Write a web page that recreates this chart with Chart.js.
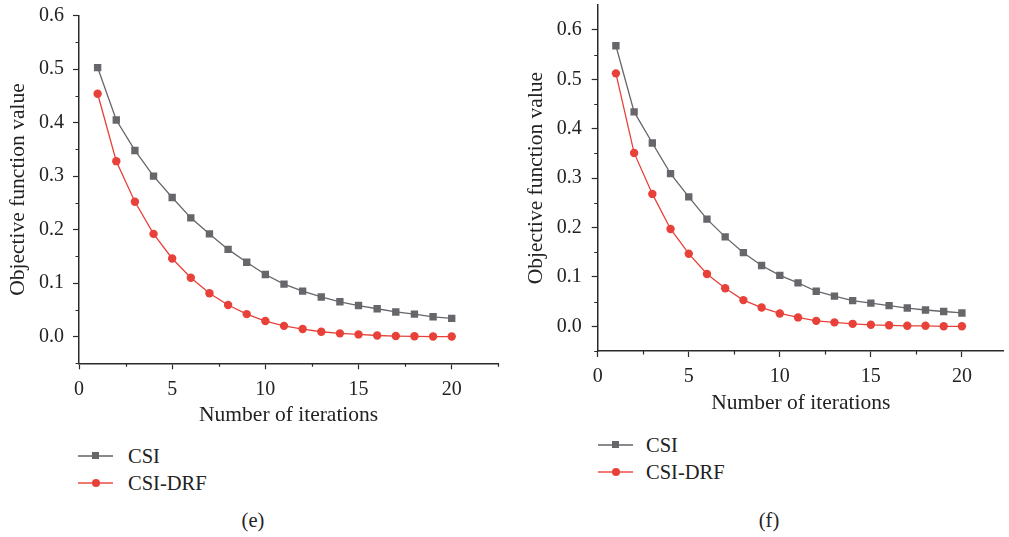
<!DOCTYPE html>
<html>
<head>
<meta charset="utf-8">
<script src="https://cdn.jsdelivr.net/npm/chart.js@4.4.1/dist/chart.umd.min.js"></script>
<style>
  body { margin: 0; background: #fff; width: 1009px; height: 537px; position: relative; overflow: hidden;
         font-family: "Liberation Serif", "DejaVu Serif", serif; color: #222; }
  canvas { position: absolute; }
  .leg { position: absolute; font-size: 20.5px; line-height: 20px; height: 20px; }
  .leg .ln { position: absolute; top: 9px; height: 1.5px; width: 35px; }
  .leg .mk { position: absolute; }
  .leg .tx { position: absolute; top: 0; white-space: nowrap; }
  .cap { position: absolute; font-size: 20.5px; transform: translateX(-50%); }
</style>
</head>
<body>
<canvas id="chartE" width="505" height="430" style="left:0;top:0;width:505px;height:430px"></canvas>
<canvas id="chartF" width="499" height="430" style="left:510px;top:0;width:499px;height:430px"></canvas>

<div class="leg" style="left:78px;top:446px">
  <div class="ln" style="width:35px;background:#8a8a8e"></div>
  <div class="mk" style="left:14px;top:6px;width:7px;height:7px;background:#66666b"></div>
  <div class="tx" style="left:50px">CSI</div>
</div>
<div class="leg" style="left:78px;top:473px">
  <div class="ln" style="width:35px;background:#f07a72"></div>
  <div class="mk" style="left:13.5px;top:5.5px;width:8px;height:8px;border-radius:50%;background:#e8413a"></div>
  <div class="tx" style="left:50px">CSI-DRF</div>
</div>
<div class="cap" style="left:253px;top:509px">(e)</div>

<div class="leg" style="left:598px;top:435px">
  <div class="ln" style="width:35px;background:#8a8a8e"></div>
  <div class="mk" style="left:14px;top:6px;width:7px;height:7px;background:#66666b"></div>
  <div class="tx" style="left:48px">CSI</div>
</div>
<div class="leg" style="left:598px;top:462px">
  <div class="ln" style="width:35px;background:#f07a72"></div>
  <div class="mk" style="left:13.5px;top:5.5px;width:8px;height:8px;border-radius:50%;background:#e8413a"></div>
  <div class="tx" style="left:48px">CSI-DRF</div>
</div>
<div class="cap" style="left:769px;top:509px">(f)</div>

<script>
// iterations 1..20
const iterations = [1, 2, 3, 4, 5, 6, 7, 8, 9, 10, 11, 12, 13, 14, 15, 16, 17, 18, 19, 20];

// panel (e)
const csiE = [0.503, 0.405, 0.348, 0.300, 0.260, 0.222, 0.192, 0.163, 0.139, 0.116,
              0.098, 0.085, 0.074, 0.065, 0.058, 0.052, 0.046, 0.042, 0.037, 0.034];
const drfE = [0.454, 0.328, 0.252, 0.192, 0.146, 0.110, 0.081, 0.059, 0.042, 0.029,
              0.020, 0.014, 0.009, 0.006, 0.004, 0.002, 0.001, 0.0005, 0.0, 0.0];

// panel (f)
const csiF = [0.568, 0.434, 0.371, 0.309, 0.262, 0.217, 0.181, 0.149, 0.123, 0.103,
              0.088, 0.071, 0.061, 0.052, 0.047, 0.042, 0.037, 0.033, 0.030, 0.027];
const drfF = [0.512, 0.351, 0.268, 0.197, 0.147, 0.106, 0.077, 0.053, 0.038, 0.026,
              0.018, 0.011, 0.008, 0.005, 0.003, 0.002, 0.001, 0.001, 0.0, 0.0];

const xTicks = [0, 5, 10, 15, 20];
const xMinorTicks = [2.5, 7.5, 12.5, 17.5, 22.5];
const yTicks = [0.0, 0.1, 0.2, 0.3, 0.4, 0.5, 0.6];
const yMinorTicks = [-0.05, 0.05, 0.15, 0.25, 0.35, 0.45, 0.55];

const axisColor = '#2a2a2a';
const serif = '"Liberation Serif", "DejaVu Serif", serif';
const tickFont = { family: serif, size: 20 };
const titleFont = { family: serif, size: 21.5 };

// short minor tick marks
const minorTicks = {
  id: 'minorTicks',
  afterDraw(chart) {
    const ctx = chart.ctx;
    const xs = chart.scales.x, ys = chart.scales.y;
    ctx.save();
    ctx.strokeStyle = axisColor;
    ctx.lineWidth = 1.2;
    ctx.beginPath();
    xMinorTicks.forEach(v => {
      if (v > xs.max) return;
      const px = Math.round(xs.getPixelForValue(v)) + 0.5;
      ctx.moveTo(px, xs.top);
      ctx.lineTo(px, xs.top + 3.5);
    });
    yMinorTicks.forEach(v => {
      if (v < ys.min || v > ys.max) return;
      const py = Math.round(ys.getPixelForValue(v)) + 0.5;
      ctx.moveTo(ys.right, py);
      ctx.lineTo(ys.right - 3.5, py);
    });
    ctx.stroke();
    ctx.restore();
  }
};

function makeChart(id, csi, drf, opt) {
  return new Chart(document.getElementById(id), {
    type: 'line',
    data: {
      datasets: [
        {
          label: 'CSI',
          data: iterations.map((x, i) => ({ x: x, y: csi[i] })),
          borderColor: '#66666b',
          backgroundColor: '#66666b',
          borderWidth: 1.3,
          pointStyle: 'rect',
          pointRadius: 5.2,
          pointBorderWidth: 0,
          tension: 0
        },
        {
          label: 'CSI-DRF',
          data: iterations.map((x, i) => ({ x: x, y: drf[i] })),
          borderColor: '#e8413a',
          backgroundColor: '#e8413a',
          borderWidth: 1.3,
          pointStyle: 'circle',
          pointRadius: 4.2,
          pointBorderWidth: 0,
          tension: 0
        }
      ]
    },
    options: {
      responsive: false,
      animation: false,
      events: [],
      layout: { padding: { top: opt.top, right: opt.right, left: 0, bottom: 0 } },
      plugins: { legend: { display: false }, tooltip: { enabled: false } },
      scales: {
        x: {
          type: 'linear',
          min: 0,
          max: opt.xMax,
          afterBuildTicks: s => { s.ticks = xTicks.map(v => ({ value: v })); },
          afterFit: s => { s.height = opt.xHeight; s.paddingLeft = 0; s.paddingRight = 0; },
          grid: { drawOnChartArea: false, drawTicks: true, tickLength: 6, tickColor: axisColor, tickWidth: 1.2 },
          border: { display: true, color: axisColor, width: 1.5 },
          ticks: { color: '#222', font: tickFont, padding: opt.xTickPad, maxRotation: 0 },
          title: { display: true, text: 'Number of iterations', color: '#222', font: titleFont,
                   padding: { top: 0, bottom: opt.xTitlePad } }
        },
        y: {
          type: 'linear',
          min: -0.05,
          max: opt.yMax,
          afterBuildTicks: s => { s.ticks = yTicks.map(v => ({ value: v })); },
          afterFit: s => { s.width = opt.yWidth; s.paddingTop = 0; s.paddingBottom = 0; },
          grid: { drawOnChartArea: false, drawTicks: true, tickLength: 6, tickColor: axisColor, tickWidth: 1.2 },
          border: { display: true, color: axisColor, width: 1.5 },
          ticks: { color: '#222', font: tickFont, padding: opt.yTickPad,
                   callback: v => v.toFixed(1) },
          title: { display: true, text: 'Objective function value', color: '#222', font: titleFont,
                   padding: { top: opt.yTitlePad, bottom: 0 } }
        }
      }
    },
    plugins: [minorTicks]
  });
}

makeChart('chartE', csiE, drfE, {
  top: 15.7, right: 6.7, xMax: 22.5, yMax: 0.6,
  xHeight: 66.7, yWidth: 79, xTickPad: 8, yTickPad: 9, xTitlePad: 2.1, yTitlePad: 5.1
});

makeChart('chartF', csiF, drfF, {
  top: 4, right: 0, xMax: 22.3, yMax: 0.65,
  xHeight: 79, yWidth: 87.7, xTickPad: 8, yTickPad: 10, xTitlePad: 13.8, yTitlePad: 13.8
});
</script>
</body>
</html>
